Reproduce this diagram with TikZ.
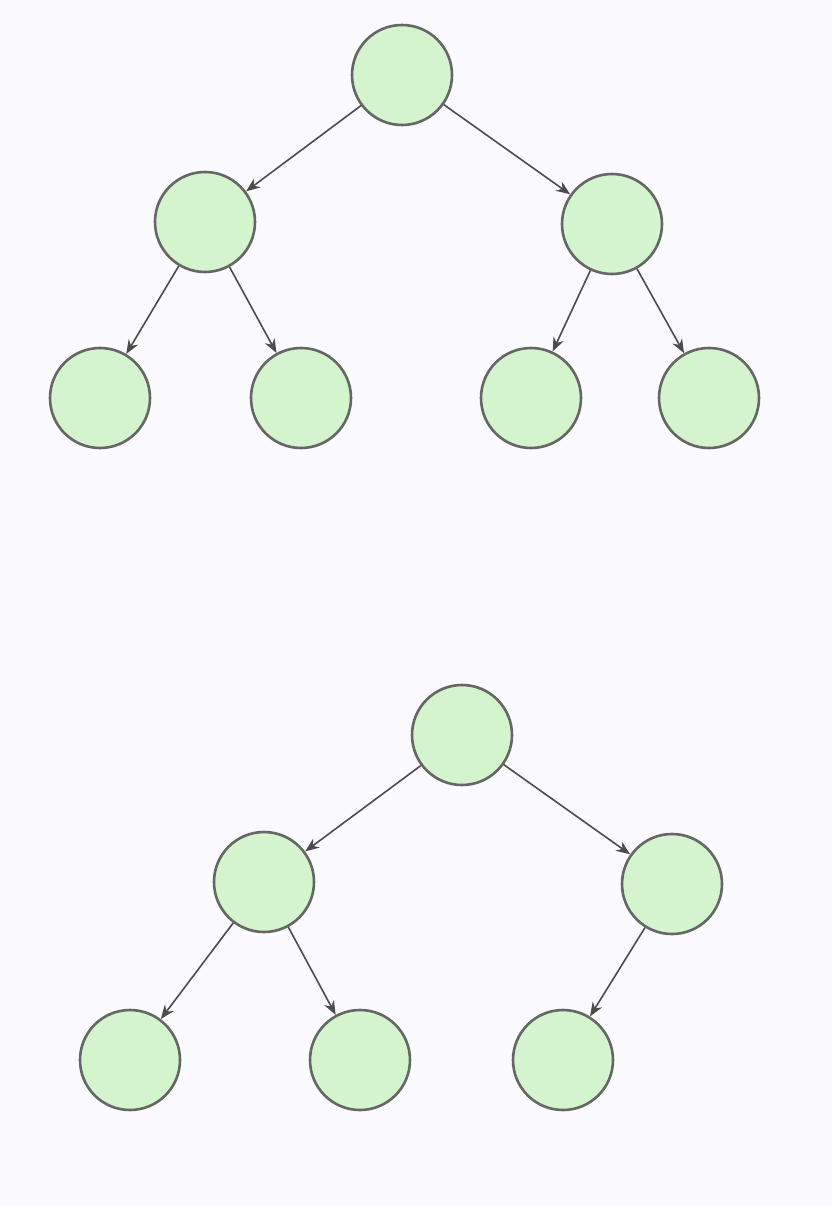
\documentclass[tikz,border=0pt]{standalone}
\usetikzlibrary{arrows.meta}
\begin{document}
\begin{tikzpicture}[x=1pt,y=-1pt,
  tn/.style={circle,draw=black!60,line width=2.6pt,fill=green!30!white!85!green,minimum size=100pt,inner sep=0pt},
  ar/.style={draw=black!70,line width=1.6pt,-{Stealth[length=14pt,width=11pt]}}]
\fill[white!98!blue] (0,0) rectangle (832,1206);
\useasboundingbox (0,0) rectangle (832,1206);
\definecolor{nodefill}{HTML}{D3F4CC}
\tikzset{tn/.append style={fill=nodefill}}
\node[tn] (a) at (402,75) {};
\node[tn] (b) at (205,222) {};
\node[tn] (c) at (612,224) {};
\node[tn] (d) at (100,398) {};
\node[tn] (e) at (301,398) {};
\node[tn] (f) at (531,398) {};
\node[tn] (g) at (709,398) {};
\draw[ar] (a) -- (b); \draw[ar] (a) -- (c);
\draw[ar] (b) -- (d); \draw[ar] (b) -- (e);
\draw[ar] (c) -- (f); \draw[ar] (c) -- (g);
\node[tn] (h) at (462,735) {};
\node[tn] (i) at (264,882) {};
\node[tn] (j) at (672,884) {};
\node[tn] (k) at (130,1060) {};
\node[tn] (l) at (360,1060) {};
\node[tn] (m) at (563,1060) {};
\draw[ar] (h) -- (i); \draw[ar] (h) -- (j);
\draw[ar] (i) -- (k); \draw[ar] (i) -- (l);
\draw[ar] (j) -- (m);
\end{tikzpicture}
\end{document}
